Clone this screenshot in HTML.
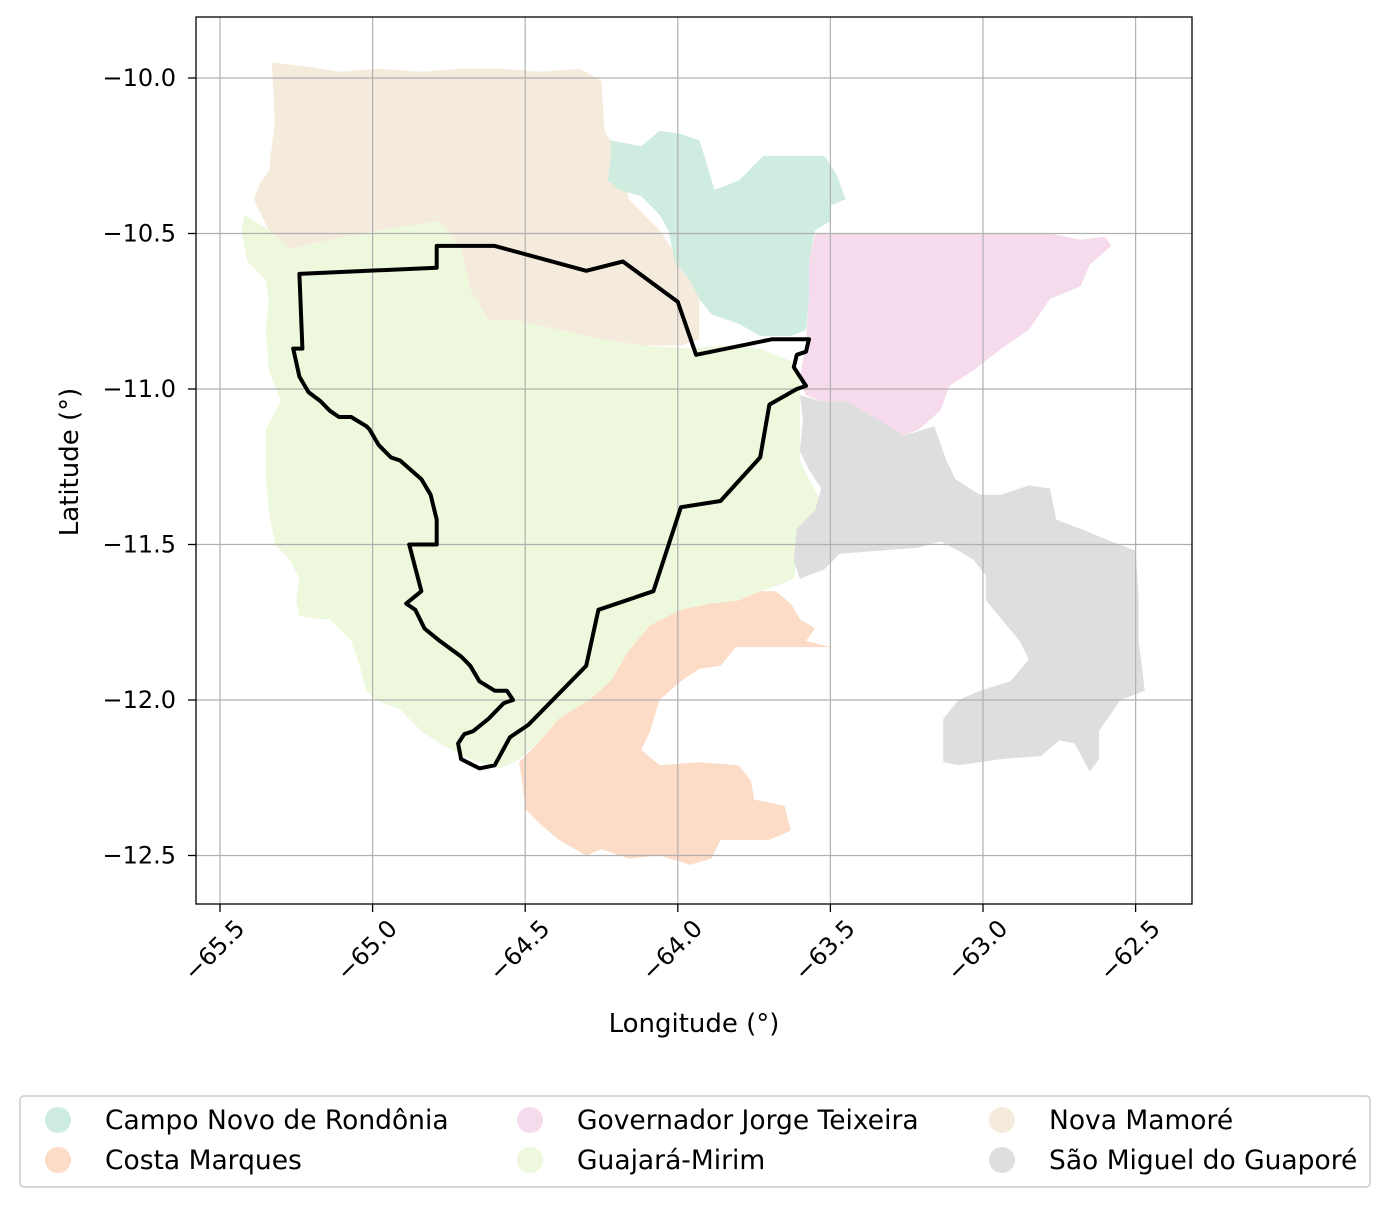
<!DOCTYPE html>
<html><head><meta charset="utf-8">
<style>
body{margin:0;background:#fff;}
svg{display:block;font-family:"DejaVu Sans","Liberation Sans",sans-serif;}
</style></head>
<body>
<svg id="chart" width="1389" height="1206" viewBox="0 0 1389 1206">
<g id="regions"></g>
<g id="grid"></g>
<g id="outline"></g>
<rect x="196" y="17" width="996" height="887" fill="none" stroke="#000" stroke-width="1.3"/>
<g id="ticks"></g>
<text x="694" y="1032" text-anchor="middle" font-size="26">Longitude (°)</text>
<text transform="translate(78,462) rotate(-90)" text-anchor="middle" font-size="26">Latitude (°)</text>
<g id="legend"></g>
</svg>
<script>
const xTicks=[-65.5,-65.0,-64.5,-64.0,-63.5,-63.0,-62.5];
const yTicks=[-10.0,-10.5,-11.0,-11.5,-12.0,-12.5];
const names=["Campo Novo de Rondônia","Costa Marques","Governador Jorge Teixeira","Guajará-Mirim","Nova Mamoré","São Miguel do Guaporé"];
const colors=["#cfece0","#fcdcc6","#f5dbec","#edf8dc","#f5ebdc","#dedede"];
const novaMamore=[[-65.33,-9.95],[-65.24,-9.96],[-65.17,-9.97],[-65.11,-9.98],[-64.98,-9.97],[-64.84,-9.98],[-64.71,-9.97],[-64.58,-9.97],[-64.45,-9.98],[-64.32,-9.97],[-64.25,-10.01],[-64.24,-10.17],[-64.21,-10.22],[-64.16,-10.39],[-64.06,-10.49],[-63.99,-10.59],[-63.93,-10.71],[-63.93,-10.84],[-63.99,-10.86],[-64.12,-10.86],[-64.25,-10.84],[-64.39,-10.81],[-64.52,-10.78],[-64.62,-10.78],[-64.68,-10.68],[-64.71,-10.55],[-64.78,-10.46],[-64.98,-10.49],[-65.14,-10.52],[-65.27,-10.55],[-65.34,-10.49],[-65.39,-10.39],[-65.37,-10.34],[-65.34,-10.30],[-65.32,-10.14]];
const guajara=[[-65.42,-10.44],[-65.34,-10.49],[-65.27,-10.55],[-65.14,-10.52],[-64.98,-10.49],[-64.78,-10.46],[-64.71,-10.55],[-64.68,-10.68],[-64.62,-10.78],[-64.52,-10.78],[-64.39,-10.81],[-64.25,-10.84],[-64.12,-10.86],[-63.96,-10.87],[-63.86,-10.86],[-63.73,-10.87],[-63.63,-10.91],[-63.60,-10.97],[-63.60,-11.10],[-63.60,-11.23],[-63.57,-11.29],[-63.53,-11.36],[-63.55,-11.42],[-63.60,-11.49],[-63.62,-11.61],[-63.67,-11.63],[-63.73,-11.65],[-63.80,-11.68],[-63.89,-11.69],[-63.99,-11.71],[-64.09,-11.76],[-64.16,-11.84],[-64.22,-11.94],[-64.29,-12.00],[-64.39,-12.06],[-64.45,-12.13],[-64.52,-12.19],[-64.58,-12.22],[-64.68,-12.19],[-64.78,-12.14],[-64.84,-12.10],[-64.91,-12.03],[-64.99,-12.00],[-65.02,-11.97],[-65.04,-11.90],[-65.07,-11.81],[-65.14,-11.74],[-65.17,-11.74],[-65.24,-11.73],[-65.25,-11.68],[-65.24,-11.61],[-65.27,-11.55],[-65.32,-11.50],[-65.34,-11.39],[-65.35,-11.29],[-65.35,-11.20],[-65.35,-11.13],[-65.30,-11.04],[-65.34,-10.94],[-65.35,-10.81],[-65.34,-10.71],[-65.35,-10.65],[-65.41,-10.59],[-65.43,-10.49]];
const campoNovo=[[-64.22,-10.20],[-64.12,-10.22],[-64.06,-10.17],[-63.99,-10.18],[-63.93,-10.20],[-63.91,-10.26],[-63.88,-10.36],[-63.80,-10.33],[-63.75,-10.28],[-63.72,-10.25],[-63.52,-10.25],[-63.48,-10.31],[-63.45,-10.39],[-63.50,-10.41],[-63.50,-10.46],[-63.55,-10.49],[-63.57,-10.59],[-63.57,-10.71],[-63.58,-10.81],[-63.63,-10.83],[-63.73,-10.83],[-63.80,-10.79],[-63.89,-10.76],[-63.93,-10.71],[-63.96,-10.65],[-64.01,-10.59],[-64.03,-10.49],[-64.06,-10.44],[-64.12,-10.38],[-64.19,-10.36],[-64.23,-10.33],[-64.22,-10.26]];
const governador=[[-63.55,-10.50],[-62.78,-10.50],[-62.68,-10.52],[-62.60,-10.51],[-62.58,-10.54],[-62.65,-10.60],[-62.68,-10.67],[-62.78,-10.71],[-62.85,-10.81],[-62.94,-10.87],[-63.03,-10.94],[-63.11,-10.99],[-63.14,-11.07],[-63.21,-11.13],[-63.26,-11.15],[-63.34,-11.10],[-63.45,-11.04],[-63.53,-11.04],[-63.58,-11.02],[-63.60,-10.97],[-63.58,-10.84],[-63.57,-10.71],[-63.57,-10.59]];
const saoMiguel=[[-63.60,-11.02],[-63.53,-11.04],[-63.45,-11.04],[-63.34,-11.10],[-63.26,-11.15],[-63.16,-11.12],[-63.12,-11.23],[-63.09,-11.29],[-63.01,-11.34],[-62.94,-11.34],[-62.85,-11.31],[-62.78,-11.32],[-62.76,-11.42],[-62.68,-11.45],[-62.58,-11.49],[-62.50,-11.52],[-62.49,-11.68],[-62.49,-11.81],[-62.47,-11.97],[-62.55,-12.00],[-62.62,-12.10],[-62.62,-12.19],[-62.65,-12.23],[-62.70,-12.14],[-62.75,-12.13],[-62.81,-12.18],[-62.94,-12.19],[-63.08,-12.21],[-63.13,-12.20],[-63.13,-12.06],[-63.08,-12.00],[-63.01,-11.97],[-62.91,-11.94],[-62.85,-11.87],[-62.88,-11.81],[-62.94,-11.74],[-62.99,-11.68],[-62.99,-11.60],[-63.03,-11.55],[-63.08,-11.52],[-63.14,-11.49],[-63.21,-11.51],[-63.34,-11.52],[-63.47,-11.53],[-63.52,-11.58],[-63.60,-11.61],[-63.62,-11.55],[-63.61,-11.45],[-63.55,-11.39],[-63.53,-11.32],[-63.57,-11.26],[-63.60,-11.20],[-63.59,-11.10]];
const costaMarques=[[-64.52,-12.20],[-64.45,-12.13],[-64.39,-12.06],[-64.29,-12.00],[-64.22,-11.94],[-64.16,-11.84],[-64.09,-11.76],[-63.99,-11.71],[-63.89,-11.69],[-63.80,-11.68],[-63.73,-11.65],[-63.68,-11.65],[-63.63,-11.69],[-63.60,-11.74],[-63.55,-11.77],[-63.58,-11.81],[-63.50,-11.83],[-63.81,-11.83],[-63.86,-11.89],[-63.93,-11.90],[-63.99,-11.94],[-64.06,-12.00],[-64.09,-12.10],[-64.12,-12.16],[-64.06,-12.21],[-63.93,-12.20],[-63.80,-12.21],[-63.76,-12.26],[-63.75,-12.32],[-63.65,-12.34],[-63.63,-12.42],[-63.70,-12.45],[-63.86,-12.45],[-63.89,-12.51],[-63.96,-12.53],[-64.06,-12.50],[-64.16,-12.51],[-64.25,-12.48],[-64.30,-12.50],[-64.39,-12.45],[-64.45,-12.40],[-64.50,-12.35],[-64.51,-12.26]];
const outline=[[-65.26,-10.87],[-65.23,-10.87],[-65.24,-10.63],[-64.79,-10.61],[-64.79,-10.54],[-64.60,-10.54],[-64.30,-10.62],[-64.18,-10.59],[-64.00,-10.72],[-63.94,-10.89],[-63.69,-10.84],[-63.62,-10.84],[-63.57,-10.84],[-63.58,-10.88],[-63.61,-10.89],[-63.62,-10.93],[-63.58,-10.99],[-63.61,-11.00],[-63.70,-11.05],[-63.73,-11.22],[-63.86,-11.36],[-63.99,-11.38],[-64.08,-11.65],[-64.26,-11.71],[-64.30,-11.89],[-64.49,-12.08],[-64.55,-12.12],[-64.60,-12.21],[-64.65,-12.22],[-64.71,-12.19],[-64.72,-12.14],[-64.70,-12.11],[-64.67,-12.10],[-64.62,-12.06],[-64.57,-12.01],[-64.54,-12.00],[-64.56,-11.97],[-64.60,-11.97],[-64.65,-11.94],[-64.68,-11.89],[-64.71,-11.86],[-64.78,-11.81],[-64.83,-11.77],[-64.86,-11.71],[-64.89,-11.69],[-64.84,-11.65],[-64.88,-11.50],[-64.79,-11.50],[-64.79,-11.42],[-64.81,-11.34],[-64.84,-11.29],[-64.91,-11.23],[-64.94,-11.22],[-64.98,-11.18],[-65.01,-11.13],[-65.02,-11.12],[-65.07,-11.09],[-65.11,-11.09],[-65.14,-11.07],[-65.17,-11.04],[-65.21,-11.01],[-65.24,-10.96]];

const NS="http://www.w3.org/2000/svg";
function X(lon){return 220+(lon+65.5)*305.2;}
function Y(lat){return 78+(-10-lat)*311;}
function pts(a){return a.map(p=>X(p[0]).toFixed(1)+","+Y(p[1]).toFixed(1)).join(" ");}
function mk(tag,attrs,parent){const e=document.createElementNS(NS,tag);for(const k in attrs)e.setAttribute(k,attrs[k]);parent.appendChild(e);return e;}

const regions=document.getElementById("regions");
const polys=[campoNovo,costaMarques,governador,guajara,novaMamore,saoMiguel];
const slugs=["campo-novo","costa-marques","governador-jorge-teixeira","guajara-mirim","nova-mamore","sao-miguel"];
[4,3,0,2,5,1].forEach(i=>{
  const p=mk("polygon",{points:pts(polys[i]),fill:colors[i]},regions);
  
  
});

const grid=document.getElementById("grid"),ticks=document.getElementById("ticks");
xTicks.forEach(v=>{
  const x=X(v);
  const g=mk("line",{x1:x,x2:x,y1:17,y2:904,stroke:"#b0b0b0","stroke-width":1.2},grid);
  
  
  mk("line",{x1:x,x2:x,y1:904,y2:912,stroke:"#000","stroke-width":1.3},ticks);
  const t=mk("text",{x:x+26,y:930,"text-anchor":"end","font-size":24,transform:`rotate(-45 ${x+26} 930)`},ticks);
  t.textContent=v.toFixed(1).replace("-","\u2212");
  
  
});
yTicks.forEach(v=>{
  const y=Y(v);
  const g=mk("line",{x1:196,x2:1192,y1:y,y2:y,stroke:"#b0b0b0","stroke-width":1.2},grid);
  
  
  mk("line",{x1:188,x2:196,y1:y,y2:y,stroke:"#000","stroke-width":1.3},ticks);
  const t=mk("text",{x:176,y:y+8,"text-anchor":"end","font-size":24},ticks);
  t.textContent=v.toFixed(1).replace("-","\u2212");
  
  
});

const ol=mk("polygon",{points:pts(outline),fill:"none",stroke:"#000","stroke-width":4,"stroke-linejoin":"round"},document.getElementById("outline"));



const lg=document.getElementById("legend");
const box=mk("rect",{x:20,y:1096,width:1350,height:91,rx:4,fill:"#fff",stroke:"#ccc","stroke-width":1.5},lg);


const colX=[58,530,1002];
names.forEach((n,i)=>{
  const cx=colX[Math.floor(i/2)],cy=i%2===0?1120:1160;
  const g=mk("g",{},lg);
  
  
  mk("circle",{cx:cx,cy:cy,r:13,fill:colors[i]},g);
  const t=mk("text",{x:cx+47,y:cy+9,"font-size":26.5},g);
  t.textContent=n;
});
</script>
</body></html>
